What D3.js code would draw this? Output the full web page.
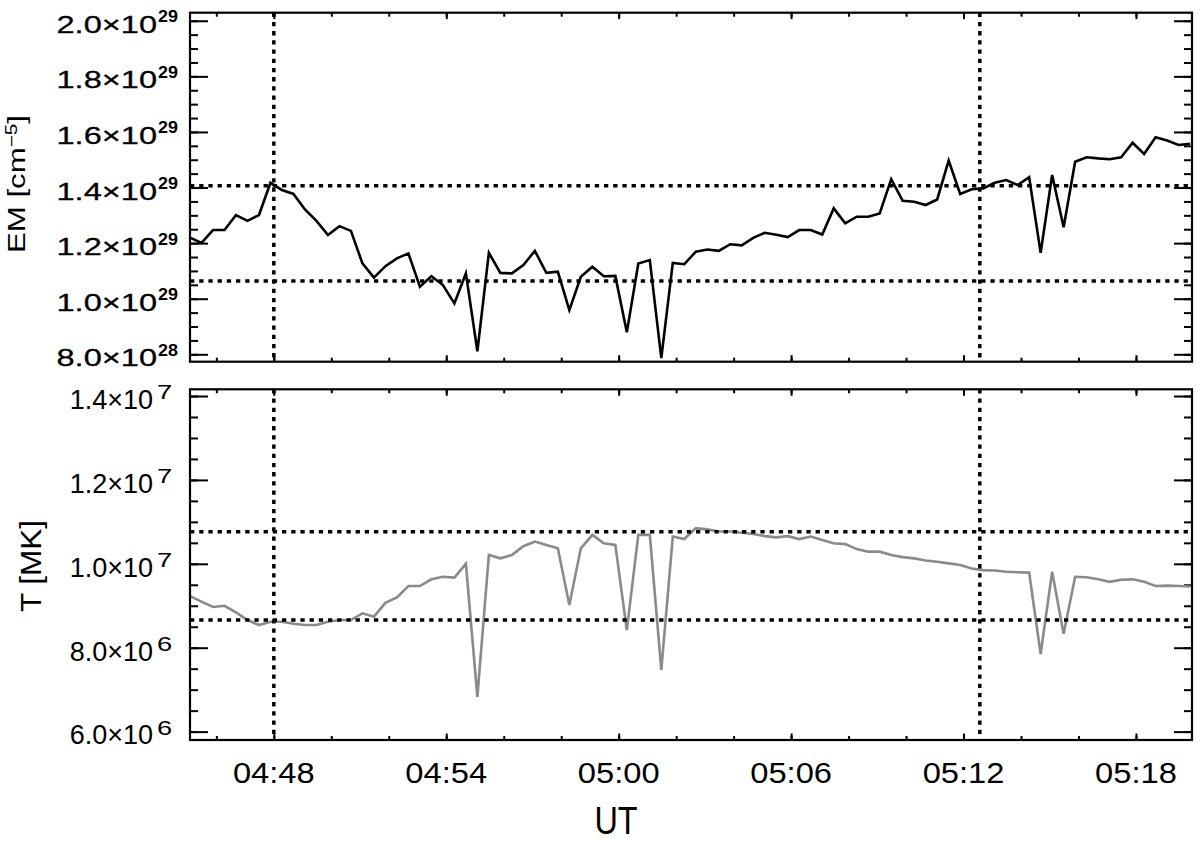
<!DOCTYPE html>
<html><head><meta charset="utf-8">
<script src="https://cdn.jsdelivr.net/npm/d3@7"></script>
<style>
body{margin:0;background:#fff}
svg{display:block}
text{font-family:"Liberation Sans",Arial,Helvetica,sans-serif;fill:#000}
</style>
</head><body>
<svg id="chart" width="1200" height="844"></svg>
<script>
// ---------------- data ----------------
const times = ["04:45:05","04:45:29","04:45:53","04:46:17","04:46:41","04:47:05","04:47:29","04:47:53","04:48:17","04:48:41",
"04:49:05","04:49:29","04:49:53","04:50:17","04:50:41","04:51:05","04:51:29","04:51:53","04:52:17","04:52:41",
"04:53:05","04:53:29","04:53:53","04:54:17","04:54:41","04:55:05","04:55:29","04:55:53","04:56:17","04:56:41",
"04:57:05","04:57:29","04:57:53","04:58:17","04:58:41","04:59:05","04:59:29","04:59:53","05:00:17","05:00:41",
"05:01:05","05:01:29","05:01:53","05:02:17","05:02:41","05:03:05","05:03:29","05:03:53","05:04:17","05:04:41",
"05:05:05","05:05:29","05:05:53","05:06:17","05:06:41","05:07:05","05:07:29","05:07:53","05:08:17","05:08:41",
"05:09:05","05:09:29","05:09:53","05:10:17","05:10:41","05:11:05","05:11:29","05:11:53","05:12:17","05:12:41",
"05:13:05","05:13:29","05:13:53","05:14:17","05:14:41","05:15:05","05:15:29","05:15:53","05:16:17","05:16:41",
"05:17:05","05:17:29","05:17:53","05:18:17","05:18:41","05:19:05","05:19:29","05:19:53"];

const emValues = [1.220e29,1.201e29,1.247e29,1.247e29,1.301e29,1.280e29,1.301e29,1.417e29,1.391e29,1.377e29,
1.321e29,1.280e29,1.229e29,1.261e29,1.244e29,1.127e29,1.076e29,1.117e29,1.145e29,1.163e29,
1.043e29,1.081e29,1.049e29,0.983e29,1.091e29,0.811e29,1.165e29,1.093e29,1.091e29,1.121e29,
1.172e29,1.093e29,1.097e29,0.959e29,1.079e29,1.115e29,1.081e29,1.082e29,0.879e29,1.127e29,
1.139e29,0.786e29,1.129e29,1.124e29,1.169e29,1.177e29,1.172e29,1.196e29,1.192e29,1.219e29,
1.237e29,1.230e29,1.222e29,1.247e29,1.247e29,1.231e29,1.325e29,1.271e29,1.295e29,1.295e29,
1.307e29,1.430e29,1.352e29,1.349e29,1.337e29,1.357e29,1.497e29,1.377e29,1.394e29,1.397e29,
1.417e29,1.427e29,1.409e29,1.437e29,1.165e29,1.445e29,1.257e29,1.493e29,1.509e29,1.505e29,
1.502e29,1.509e29,1.561e29,1.521e29,1.581e29,1.569e29,1.553e29,1.557e29];

const tValues = [9.23e6,9.10e6,8.97e6,9.00e6,8.84e6,8.66e6,8.54e6,8.62e6,8.62e6,8.57e6,
8.54e6,8.54e6,8.62e6,8.66e6,8.66e6,8.82e6,8.74e6,9.07e6,9.20e6,9.47e6,
9.47e6,9.63e6,9.69e6,9.67e6,10.00e6,6.83e6,10.21e6,10.13e6,10.21e6,10.42e6,
10.53e6,10.45e6,10.37e6,9.02e6,10.37e6,10.69e6,10.49e6,10.45e6,8.42e6,10.69e6,
10.69e6,7.47e6,10.65e6,10.59e6,10.85e6,10.82e6,10.77e6,10.77e6,10.74e6,10.71e6,
10.66e6,10.63e6,10.66e6,10.59e6,10.65e6,10.57e6,10.49e6,10.47e6,10.35e6,10.29e6,
10.29e6,10.21e6,10.16e6,10.13e6,10.08e6,10.05e6,10.01e6,9.97e6,9.89e6,9.85e6,
9.84e6,9.81e6,9.80e6,9.79e6,7.85e6,9.81e6,8.33e6,9.69e6,9.68e6,9.63e6,
9.57e6,9.62e6,9.63e6,9.57e6,9.47e6,9.48e6,9.47e6,9.46e6];

const timeDomain = ["04:45:05","05:19:57"];
const xTickLabels = ["04:48","04:54","05:00","05:06","05:12","05:18"];
const xMinorTicks = ["04:46","04:48","04:50","04:52","04:54","04:56","04:58","05:00","05:02","05:04","05:06","05:08","05:10","05:12","05:14","05:16","05:18"];
const markerTimes = ["04:48:00","05:12:34"];

const emDomain = [0.7734e29, 2.029e29];
const emTicks = [0.8e29,1.0e29,1.2e29,1.4e29,1.6e29,1.8e29,2.0e29];
const emTickMain = ["8.0×10","1.0×10","1.2×10","1.4×10","1.6×10","1.8×10","2.0×10"];
const emTickExp = ["28","29","29","29","29","29","29"];
const emLevels = [1.406e29, 1.064e29];

const tDomain = [5.80e6, 14.16e6];
const tTicks = [6e6,8e6,10e6,12e6,14e6];
const tTickMain = ["6.0×10","8.0×10","1.0×10","1.2×10","1.4×10"];
const tTickExp = ["6","6","7","7","7"];
const tLevels = [10.766e6, 8.662e6];

// ---------------- chart ----------------
const svg = d3.select("#chart");
const parseT = d3.utcParse("%H:%M:%S");
const parseHM = d3.utcParse("%H:%M");
const L = 190, R = 1192;
const top1 = 12.7, bot1 = 361.7, top2 = 389.3, bot2 = 740;

const x = d3.scaleUtc().domain(timeDomain.map(parseT)).range([L, R]);
const yEM = d3.scaleLinear().domain(emDomain).range([bot1, top1]);
const yT = d3.scaleLinear().domain(tDomain).range([bot2, top2]);

const dates = times.map(parseT);
const emData = dates.map((d,i)=>({t:d, v:emValues[i]}));
const tData = dates.map((d,i)=>({t:d, v:tValues[i]}));

function minorRange(lo, hi, step){ const a=[]; for(let v=lo; v<=hi+step/10; v+=step) a.push(+v.toPrecision(6)); return a; }

function panel(y, top, bot, majors, minorStep, id){
  const g = svg.append("g");
  svg.append("clipPath").attr("id", id).append("rect")
    .attr("x", L).attr("y", top).attr("width", R-L).attr("height", bot-top);
  const minors = minorRange(y.domain()[0] - (y.domain()[0] % minorStep) , y.domain()[1], minorStep)
    .filter(v => v>=y.domain()[0] && v<=y.domain()[1]);
  const style = sel => { sel.select(".domain").remove(); sel.selectAll("line").attr("stroke","#000").attr("stroke-width",2); };
  g.append("g").attr("transform",`translate(${L},0)`).call(d3.axisLeft(y).tickValues(minors).tickSize(-8).tickFormat("")).call(style);
  g.append("g").attr("transform",`translate(${L},0)`).call(d3.axisLeft(y).tickValues(majors).tickSize(-18).tickFormat("")).call(style);
  g.append("g").attr("transform",`translate(${R},0)`).call(d3.axisRight(y).tickValues(minors).tickSize(-8).tickFormat("")).call(style);
  g.append("g").attr("transform",`translate(${R},0)`).call(d3.axisRight(y).tickValues(majors).tickSize(-18).tickFormat("")).call(style);
  const xmin = xMinorTicks.map(parseHM), xmaj = xTickLabels.map(parseHM);
  g.append("g").attr("transform",`translate(0,${bot})`).call(d3.axisBottom(x).tickValues(xmin).tickSize(-4).tickFormat("")).call(style);
  g.append("g").attr("transform",`translate(0,${bot})`).call(d3.axisBottom(x).tickValues(xmaj).tickSize(-6.5).tickFormat("")).call(style);
  g.append("g").attr("transform",`translate(0,${top})`).call(d3.axisTop(x).tickValues(xmin).tickSize(-4).tickFormat("")).call(style);
  g.append("g").attr("transform",`translate(0,${top})`).call(d3.axisTop(x).tickValues(xmaj).tickSize(-6.5).tickFormat("")).call(style);
  return g;
}

function dotted(g, x1, y1, x2, y2){
  g.append("line").attr("x1",x1).attr("y1",y1).attr("x2",x2).attr("y2",y2)
   .attr("stroke","#000").attr("stroke-width",3.5).attr("stroke-dasharray","4.3,4.9");
}

// top panel
const g1 = panel(yEM, top1, bot1, emTicks, 0.05e29, "clip1");
g1.append("path").datum(emData).attr("clip-path","url(#clip1)")
  .attr("fill","none").attr("stroke","#000").attr("stroke-width",2.6).attr("stroke-linejoin","miter")
  .attr("d", d3.line().x(d=>x(d.t)).y(d=>yEM(d.v)));
emLevels.forEach(v => dotted(g1, L, yEM(v), R, yEM(v)));
markerTimes.forEach(t => dotted(g1, x(parseT(t)), top1, x(parseT(t)), bot1));
g1.append("rect").attr("x",L).attr("y",top1).attr("width",R-L).attr("height",bot1-top1)
  .attr("fill","none").attr("stroke","#000").attr("stroke-width",2.2);

// bottom panel
const g2 = panel(yT, top2, bot2, tTicks, 0.5e6, "clip2");
g2.append("path").datum(tData).attr("clip-path","url(#clip2)")
  .attr("fill","none").attr("stroke","#8a8a8a").attr("stroke-width",2.6)
  .attr("d", d3.line().x(d=>x(d.t)).y(d=>yT(d.v)));
tLevels.forEach(v => dotted(g2, L, yT(v), R, yT(v)));
markerTimes.forEach(t => dotted(g2, x(parseT(t)), top2, x(parseT(t)), bot2));
g2.append("rect").attr("x",L).attr("y",top2).attr("width",R-L).attr("height",bot2-top2)
  .attr("fill","none").attr("stroke","#000").attr("stroke-width",2.2);

// y tick labels (top)
emTicks.forEach((v,i)=>{
  const y = yEM(v);
  svg.append("text").attr("transform",`translate(157,${y+12}) scale(1.33,1)`)
    .attr("text-anchor","end").attr("font-size",24.5).attr("stroke","#000").attr("stroke-width",0.3).text(emTickMain[i]);
  svg.append("text").attr("transform",`translate(158,${y+1.5}) scale(1.12,1)`)
    .attr("text-anchor","start").attr("font-size",16).attr("font-weight","bold").text(emTickExp[i]);
});
// y tick labels (bottom)
tTicks.forEach((v,i)=>{
  const y = yT(v);
  svg.append("text").attr("transform",`translate(153,${y+12.8}) scale(1.0,1)`)
    .attr("text-anchor","end").attr("font-size",27).text(tTickMain[i]);
  svg.append("text").attr("transform",`translate(157,${y+3}) scale(1.3,1)`)
    .attr("text-anchor","start").attr("font-size",21).text(tTickExp[i]);
});

// x tick labels
xTickLabels.forEach(s=>{
  svg.append("text").attr("transform",`translate(${x(parseHM(s))},783) scale(1.09,1)`)
    .attr("text-anchor","middle").attr("font-size",30).text(s);
});

// axis titles
svg.append("text").attr("transform","translate(616,834) scale(0.9,1.08)")
  .attr("text-anchor","middle").attr("font-size",36).text("UT");

const em = svg.append("text").attr("transform","translate(25,184) rotate(-90) scale(1.3,1)")
  .attr("text-anchor","middle").attr("font-size",24);
em.append("tspan").text("EM [cm");
em.append("tspan").attr("font-size",16).attr("dy",-8).text("−5");
em.append("tspan").attr("dy",8).text("]");

svg.append("text").attr("transform","translate(41,566) rotate(-90) scale(1.05,1)")
  .attr("text-anchor","middle").attr("font-size",30).text("T [MK]");
</script>
</body></html>
